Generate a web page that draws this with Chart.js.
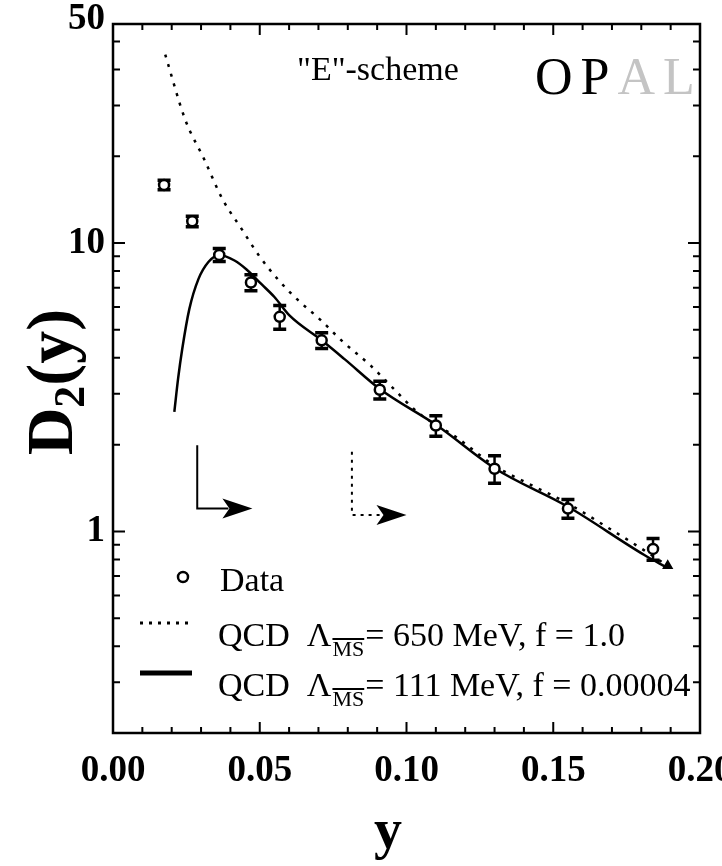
<!DOCTYPE html>
<html>
<head>
<meta charset="utf-8">
<script src="https://cdn.jsdelivr.net/npm/chart.js@4.4.1/dist/chart.umd.min.js"></script>
<style>
  html, body { margin: 0; padding: 0; background: #fff; }
</style>
</head>
<body>
<canvas id="d2Chart" width="722" height="866"></canvas>
<script>
// D2(y) measurements, E-scheme
const yCut = [0.0174, 0.027, 0.0362, 0.047, 0.0568, 0.0711, 0.0909, 0.110, 0.130, 0.155, 0.184];
const d2 = [15.9, 11.9, 9.1, 7.3, 5.55, 4.6, 3.1, 2.33, 1.65, 1.2, 0.87];
const d2Err = [0.6, 0.5, 0.47, 0.47, 0.53, 0.29, 0.22, 0.19, 0.18, 0.09, 0.075];

// QCD curve, Lambda = 650 MeV, f = 1.0
const qcd650X = [0.0178, 0.0246, 0.0311, 0.0373, 0.0438, 0.0499, 0.0561, 0.0626, 0.0704, 0.0783,
                 0.0879, 0.0957, 0.1036, 0.117, 0.130, 0.143, 0.155, 0.168, 0.181, 0.189];
const qcd650D2 = [45, 26.8, 19.5, 14.2, 11.2, 9.0, 7.5, 6.4, 5.45, 4.55,
                  3.75, 3.12, 2.60, 2.12, 1.69, 1.44, 1.25, 1.04, 0.86, 0.76];

// QCD curve, Lambda = 111 MeV, f = 0.00004
const qcd111X = [0.0209, 0.0222, 0.0236, 0.0260, 0.0291, 0.0325, 0.0362, 0.0414, 0.0455, 0.0506,
                 0.0550, 0.0602, 0.0711, 0.0790, 0.0909, 0.1104, 0.1303, 0.1549, 0.1809, 0.1887];
const qcd111D2 = [2.6, 3.4, 4.3, 5.9, 7.5, 8.6, 9.1, 8.7, 8.1, 7.2,
                  6.5, 5.6, 4.6, 3.95, 3.12, 2.33, 1.65, 1.22, 0.83, 0.75];

// fit range arrows (y where the fit starts, D2 span of the hook, arrow tip)
const arrowX = [0.0287, 0.0814];
const arrowTop = [1.99, 1.89];
const arrowBase = [1.20, 1.14];
const arrowTip = [0.0475, 0.100];

const xTickValues = [0, 0.05, 0.10, 0.15, 0.20];
const xTickLabels = ['0.00', '0.05', '0.10', '0.15', '0.20'];
const yTickValues = [1, 10, 50];
const legendLabels = ['Data', ['= 650 MeV, f = 1.0'], ['= 111 MeV, f = 0.00004']];

const serif = '"Liberation Serif", "Times New Roman", serif';

const paperMarks = {
  id: 'paperMarks',
  beforeDatasetsDraw(chart) {
    const { ctx, scales: { x, y } } = chart;
    ctx.save();
    ctx.strokeStyle = '#000';
    yCut.forEach((v, i) => {
      const px = x.getPixelForValue(v);
      const lo = y.getPixelForValue(d2[i] - d2Err[i]);
      const hi = y.getPixelForValue(d2[i] + d2Err[i]);
      ctx.lineWidth = 2.5;
      ctx.beginPath();
      ctx.moveTo(px, lo);
      ctx.lineTo(px, hi);
      ctx.stroke();
      ctx.lineWidth = 3.5;
      ctx.beginPath();
      ctx.moveTo(px - 6.5, lo); ctx.lineTo(px + 6.5, lo);
      ctx.moveTo(px - 6.5, hi); ctx.lineTo(px + 6.5, hi);
      ctx.stroke();
    });
    ctx.restore();
  },
  afterDraw(chart) {
    const { ctx, chartArea: a, scales: { x, y } } = chart;
    ctx.save();
    ctx.strokeStyle = '#000';
    ctx.fillStyle = '#000';

    // frame
    ctx.lineWidth = 2.5;
    ctx.strokeRect(a.left, a.top, a.right - a.left, a.bottom - a.top);

    // inward ticks
    ctx.lineWidth = 2;
    ctx.beginPath();
    for (let k = 0; k <= 20; k++) {
      const px = x.getPixelForValue(k / 100);
      const len = k % 5 === 0 ? 11 : 6;
      ctx.moveTo(px, a.bottom); ctx.lineTo(px, a.bottom - len);
      ctx.moveTo(px, a.top); ctx.lineTo(px, a.top + len);
    }
    for (let e = -1; e <= 1; e++) {
      for (let m = 1; m <= 9; m++) {
        const v = m * Math.pow(10, e);
        if (v < y.min || v > y.max) continue;
        const py = y.getPixelForValue(v);
        const len = m === 1 ? 12 : 7;
        ctx.moveTo(a.left, py); ctx.lineTo(a.left + len, py);
        ctx.moveTo(a.right, py); ctx.lineTo(a.right - len, py);
      }
    }
    ctx.stroke();

    // fit range arrows
    arrowX.forEach((v, i) => {
      const x0 = x.getPixelForValue(v);
      const yTop = y.getPixelForValue(arrowTop[i]);
      const yb = y.getPixelForValue(arrowBase[i]);
      const tip = x.getPixelForValue(arrowTip[i]);
      const back = tip - 30;
      ctx.lineWidth = 2;
      ctx.setLineDash(i === 1 ? [3, 5] : []);
      ctx.beginPath();
      ctx.moveTo(x0, yTop);
      ctx.lineTo(x0, yb);
      ctx.lineTo(back + 6, yb);
      ctx.stroke();
      ctx.setLineDash([]);
      ctx.beginPath();
      ctx.moveTo(tip, yb);
      ctx.lineTo(back, yb - 10);
      ctx.lineTo(back + 7, yb);
      ctx.lineTo(back, yb + 10);
      ctx.closePath();
      ctx.fill();
    });

    // axis titles
    ctx.textAlign = 'left';
    ctx.textBaseline = 'alphabetic';
    ctx.save();
    ctx.translate(72, 382);
    ctx.rotate(-Math.PI / 2);
    const big = 'bold 66px ' + serif;
    const sub = 'bold 44px ' + serif;
    ctx.font = big; const wD = ctx.measureText('D').width; const wY = ctx.measureText('(y)').width;
    ctx.font = sub; const w2 = ctx.measureText('2').width;
    let tx = -(wD + w2 + wY) / 2;
    ctx.font = big; ctx.fillText('D', tx, 0); tx += wD;
    ctx.font = sub; ctx.fillText('2', tx, 12); tx += w2;
    ctx.font = big; ctx.fillText('(y)', tx, 0);
    ctx.restore();

    ctx.font = 'bold 56px ' + serif;
    ctx.textAlign = 'center';
    ctx.fillText('y', 388, 848);

    // scheme and experiment labels
    ctx.textAlign = 'left';
    ctx.font = '34px ' + serif;
    ctx.fillText('"E"-scheme', 297, 80);
    ctx.font = '52px ' + serif;
    ctx.letterSpacing = '8px';
    ctx.fillText('OP', 535, 94);
    const wOP = ctx.measureText('OP').width;
    ctx.fillStyle = '#c4c4c4';
    ctx.fillText('AL', 535 + wOP, 94);
    ctx.letterSpacing = '0px';
    ctx.fillStyle = '#000';

    // legend
    ctx.lineWidth = 2.5;
    ctx.beginPath();
    ctx.arc(183, 577, 5, 0, Math.PI * 2);
    ctx.fillStyle = '#fff'; ctx.fill(); ctx.stroke();
    ctx.fillStyle = '#000';
    ctx.font = '34px ' + serif;
    ctx.fillText(legendLabels[0], 220, 591);

    const rows = [{ yLine: 623, base: 646, dash: [3, 6], width: 3 },
                  { yLine: 673, base: 696, dash: [], width: 5 }];
    rows.forEach((r, i) => {
      ctx.lineWidth = r.width;
      ctx.setLineDash(r.dash);
      ctx.beginPath();
      ctx.moveTo(140, r.yLine); ctx.lineTo(192, r.yLine);
      ctx.stroke();
      ctx.setLineDash([]);
      let lx = 218;
      ctx.font = '34px ' + serif;
      ctx.fillText('QCD  \u039B', lx, r.base);
      lx += ctx.measureText('QCD  \u039B').width;
      ctx.font = '22px ' + serif;
      const wMS = ctx.measureText('MS').width;
      ctx.fillText('MS', lx + 1, r.base + 10);
      ctx.lineWidth = 1.8;
      ctx.beginPath();
      ctx.moveTo(lx + 1, r.base - 7); ctx.lineTo(lx + 1 + wMS, r.base - 7);
      ctx.stroke();
      lx += wMS + 2;
      ctx.font = '34px ' + serif;
      ctx.fillText(legendLabels[i + 1][0], lx, r.base);
    });
    ctx.restore();
  }
};

new Chart(document.getElementById('d2Chart'), {
  type: 'scatter',
  data: {
    datasets: [
      {
        label: 'Data',
        data: yCut.map((v, i) => ({ x: v, y: d2[i] })),
        pointStyle: 'circle',
        pointRadius: 5,
        pointBorderWidth: 2.5,
        borderColor: '#000',
        backgroundColor: '#fff'
      },
      {
        label: 'QCD 650 MeV',
        data: qcd650X.map((v, i) => ({ x: v, y: qcd650D2[i] })),
        showLine: true,
        borderColor: '#000',
        backgroundColor: '#000',
        borderWidth: 2.5,
        borderDash: [3, 7],
        cubicInterpolationMode: 'monotone',
        pointRadius: qcd650X.map((v, i) => i === qcd650X.length - 1 ? 4 : 0),
        pointStyle: 'triangle',
        rotation: 120
      },
      {
        label: 'QCD 111 MeV',
        data: qcd111X.map((v, i) => ({ x: v, y: qcd111D2[i] })),
        showLine: true,
        borderColor: '#000',
        borderWidth: 2.5,
        cubicInterpolationMode: 'monotone',
        pointRadius: 0
      }
    ]
  },
  options: {
    responsive: false,
    animation: false,
    devicePixelRatio: 1,
    layout: { padding: { left: 0, right: 22, top: 24, bottom: 0 }, autoPadding: false },
    plugins: { legend: { display: false }, tooltip: { enabled: false } },
    scales: {
      x: {
        type: 'linear',
        min: 0,
        max: 0.2,
        afterBuildTicks: s => { s.ticks = xTickValues.map(v => ({ value: v })); },
        afterFit: s => { s.height = 133; s.paddingLeft = 0; s.paddingRight = 0; },
        grid: { display: false, drawTicks: false },
        border: { display: false },
        ticks: {
          autoSkip: false,
          maxRotation: 0,
          padding: 16,
          color: '#000',
          font: { family: serif, size: 37, weight: 'bold' },
          callback: (v, i) => xTickLabels[i]
        }
      },
      y: {
        type: 'logarithmic',
        min: 0.2,
        max: 57.5,
        afterBuildTicks: s => { s.ticks = yTickValues.map(v => ({ value: v })); },
        afterFit: s => { s.width = 113; s.paddingTop = 0; s.paddingBottom = 0; },
        grid: { display: false, drawTicks: false },
        border: { display: false },
        ticks: {
          autoSkip: false,
          padding: 8,
          color: '#000',
          font: { family: serif, size: 37, weight: 'bold' },
          callback: v => v === 50 ? ['50', ''] : String(v)
        }
      }
    }
  },
  plugins: [paperMarks]
});
</script>
</body>
</html>
